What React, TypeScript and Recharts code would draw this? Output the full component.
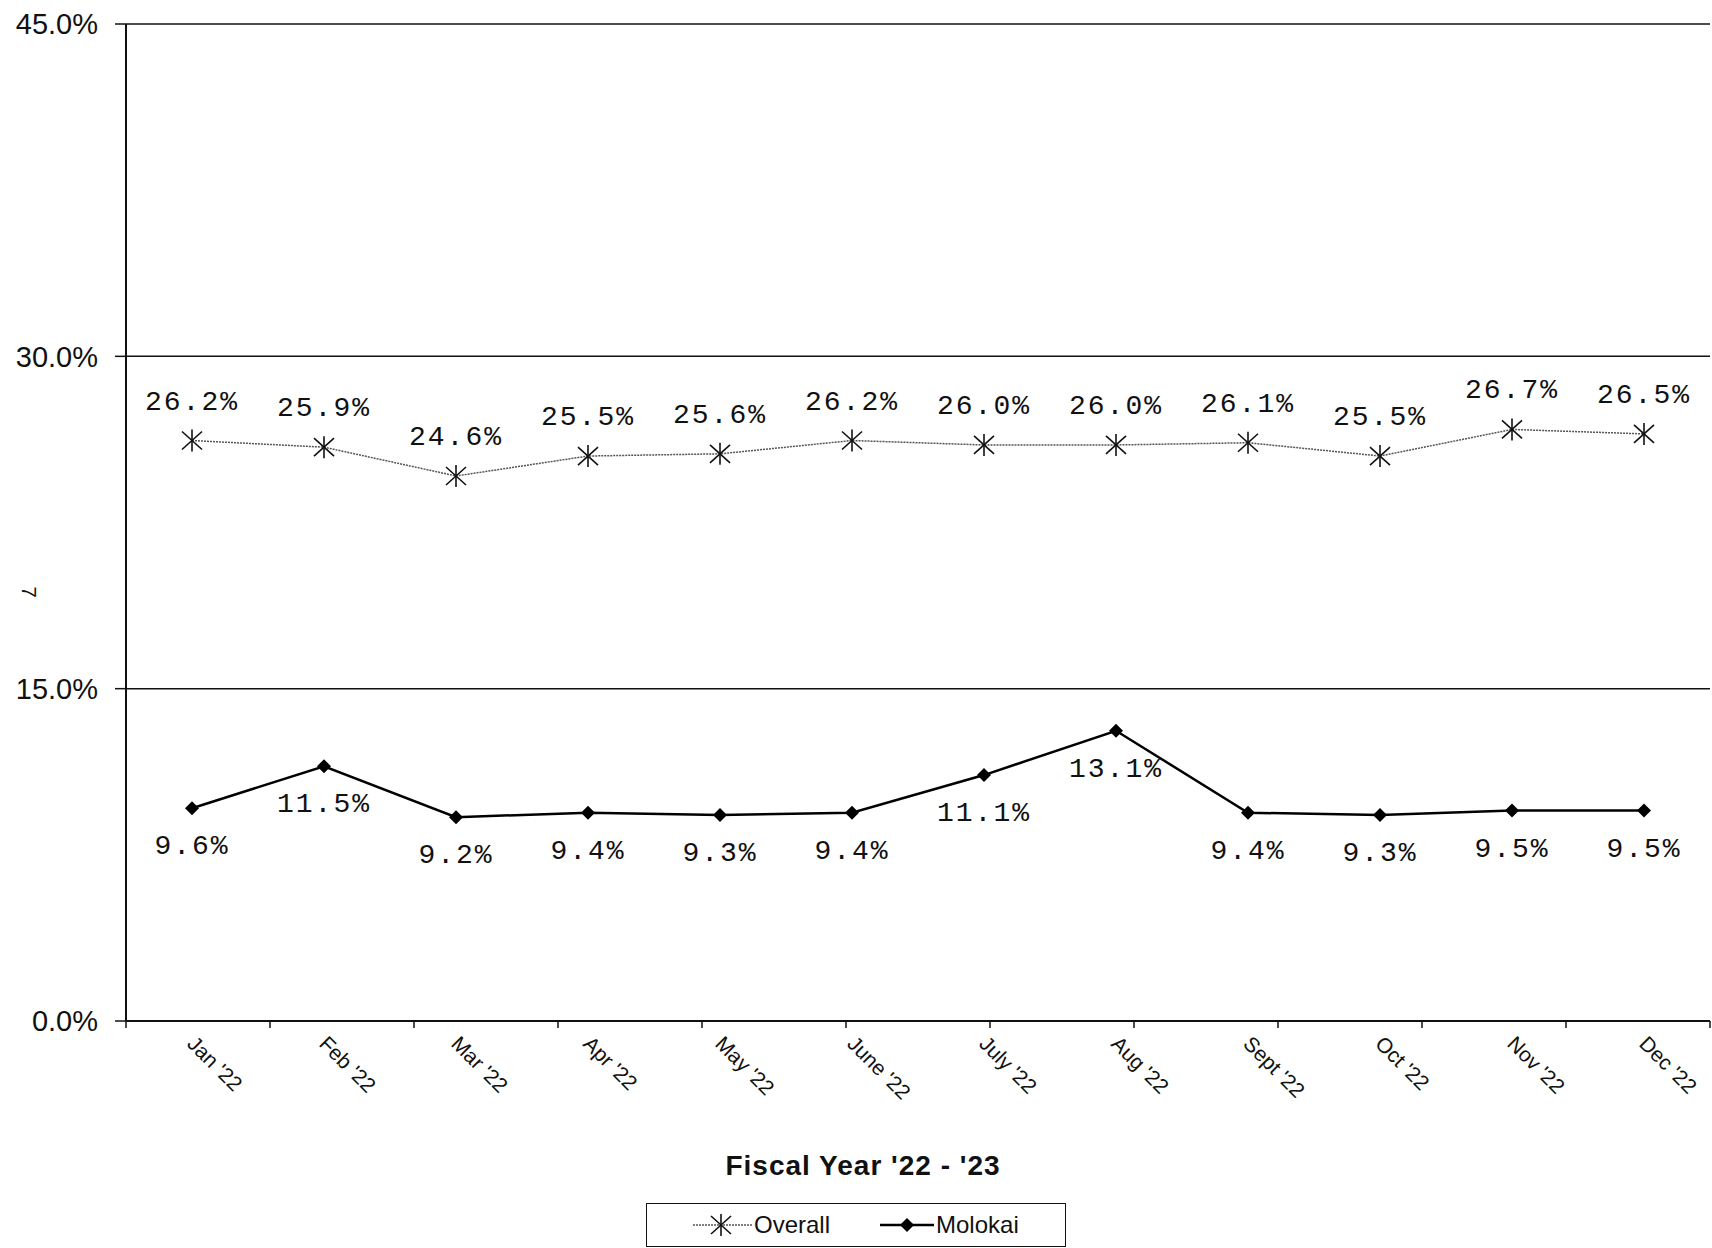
import React from 'react';
import { LineChart, Line, XAxis, YAxis, CartesianGrid, LabelList, Legend } from 'recharts';

const months = ["Jan '22", "Feb '22", "Mar '22", "Apr '22", "May '22", "June '22", "July '22", "Aug '22", "Sept '22", "Oct '22", "Nov '22", "Dec '22"];
const overall = [26.2, 25.9, 24.6, 25.5, 25.6, 26.2, 26.0, 26.0, 26.1, 25.5, 26.7, 26.5];
const molokai = [9.6, 11.5, 9.2, 9.4, 9.3, 9.4, 11.1, 13.1, 9.4, 9.3, 9.5, 9.5];
const yTicks = [0, 15, 30, 45];
const boundaryTicks = [0, 1, 2, 3, 4, 5, 6, 7, 8, 9, 10, 11, 12];
const xTitle = "Fiscal Year '22 - '23";
const seriesNames = { overall: 'Overall', molokai: 'Molokai' };

const data = months.map((m, i) => ({ month: m, overall: overall[i], molokai: molokai[i] }));

const SANS = '"Liberation Sans", Arial, sans-serif';
const MONO = '"Liberation Mono", "Courier New", monospace';

const Asterisk = (props: any) => {
  const { cx, cy } = props;
  if (cx == null || cy == null) return null;
  return (
    <g stroke="#111" strokeWidth={1.6} fill="none">
      <line x1={cx - 10} y1={cy - 9} x2={cx + 10} y2={cy + 9} />
      <line x1={cx - 10} y1={cy + 9} x2={cx + 10} y2={cy - 9} />
      <line x1={cx} y1={cy - 11} x2={cx} y2={cy + 11} />
    </g>
  );
};

const Diamond = (props: any) => {
  const { cx, cy } = props;
  if (cx == null || cy == null) return null;
  return <path d={`M${cx},${cy - 7} L${cx + 7},${cy} L${cx},${cy + 7} L${cx - 7},${cy} Z`} fill="#000" />;
};

const OverallLabel = (props: any) => {
  const { x, y, value } = props;
  return (
    <text x={x} y={y - 31} textAnchor="middle" fontFamily={MONO} fontSize={28} letterSpacing={2} fill="#111">
      {Number(value).toFixed(1) + '%'}
    </text>
  );
};

const MolokaiLabel = (props: any) => {
  const { x, y, value } = props;
  return (
    <text x={x} y={y + 46} textAnchor="middle" fontFamily={MONO} fontSize={28} letterSpacing={2} fill="#111">
      {Number(value).toFixed(1) + '%'}
    </text>
  );
};

const MonthTick = (props: any) => {
  const { x, y, payload } = props;
  const ax = x - 6;
  const ay = y + 16;
  return (
    <text x={ax} y={ay} transform={`rotate(45, ${ax}, ${ay})`} textAnchor="start" fontFamily={SANS} fontSize={21} fill="#111">
      {payload.value}
    </text>
  );
};

const BoundaryTick = (props: any) => {
  const { x, y } = props;
  return <line x1={x} x2={x} y1={y - 1} y2={y + 6} stroke="#111" strokeWidth={1.5} />;
};

const XTitle = (props: any) => {
  const vb = props.viewBox || {};
  return (
    <text x={vb.x + vb.width / 2 - 55} y={vb.y + 154} textAnchor="middle" fontFamily={SANS} fontWeight="bold" fontSize={28} letterSpacing={1} fill="#111">
      {xTitle}
    </text>
  );
};

const YStray = () => (
  <text x={29} y={592} transform="rotate(90, 29, 592)" textAnchor="middle" dominantBaseline="central" fontFamily={SANS} fontSize={20} fill="#111">
    7
  </text>
);

const LegendBox = () => (
  <div
    style={{
      boxSizing: 'border-box',
      width: 420,
      height: 44,
      border: '1.5px solid #111',
      display: 'flex',
      alignItems: 'center',
      fontFamily: SANS,
      fontSize: 24,
      color: '#111',
    }}
  >
    <svg width={60} height={30} style={{ marginLeft: 46 }}>
      <line x1={0} y1={15} x2={60} y2={15} stroke="#555" strokeWidth={1.5} strokeDasharray="2 1" />
      <Asterisk cx={28} cy={15} />
    </svg>
    <span style={{ marginLeft: 1 }}>{seriesNames.overall}</span>
    <svg width={54} height={30} style={{ marginLeft: 50 }}>
      <line x1={0} y1={15} x2={54} y2={15} stroke="#000" strokeWidth={2.5} />
      <Diamond cx={27} cy={15} />
    </svg>
    <span style={{ marginLeft: 2 }}>{seriesNames.molokai}</span>
  </div>
);

export default function App() {
  return (
    <div style={{ position: 'absolute', left: 0, top: 0, width: 1712, height: 1248, background: '#fff' }}>
      <LineChart width={1712} height={1248} data={data} margin={{ top: 24, right: 2, left: 0, bottom: 127 }}>
        <CartesianGrid vertical={false} stroke="#111" strokeWidth={1.5} />
        <XAxis
          xAxisId="bounds"
          type="number"
          domain={[0, 12]}
          ticks={boundaryTicks}
          allowDataOverflow
          height={99}
          axisLine={false}
          tickLine={false}
          tickSize={0}
          tickMargin={0}
          tick={<BoundaryTick />}
          interval={0}
        />
        <XAxis
          dataKey="month"
          scale="band"
          height={1}
          interval={0}
          tickLine={false}
          axisLine={{ stroke: '#111', strokeWidth: 2 }}
          tick={<MonthTick />}
          label={<XTitle />}
        />
        <YAxis
          width={126}
          domain={[0, 45]}
          ticks={yTicks}
          interval={0}
          tickFormatter={(v: number) => v.toFixed(1) + '%'}
          tick={{ fontFamily: SANS, fontSize: 29, fill: '#111' }}
          tickSize={11}
          tickMargin={17}
          tickLine={{ stroke: '#111', strokeWidth: 1.5 }}
          axisLine={{ stroke: '#111', strokeWidth: 2 }}
          label={<YStray />}
        />
        <YAxis
          yAxisId="right"
          orientation="right"
          width={0}
          domain={[0, 45]}
          ticks={yTicks}
          tick={false}
          tickLine={false}
          axisLine={{ stroke: '#111', strokeWidth: 1.5 }}
        />
        <Legend
          verticalAlign="middle"
          align="center"
          layout="horizontal"
          content={<LegendBox />}
          wrapperStyle={{ position: 'absolute', top: 1203, left: 646, width: 420, height: 44 }}
        />
        <Line
          type="linear"
          dataKey="overall"
          name={seriesNames.overall}
          stroke="#555"
          strokeWidth={1.5}
          strokeDasharray="2 1"
          dot={<Asterisk />}
          activeDot={false}
          isAnimationActive={false}
        >
          <LabelList dataKey="overall" content={<OverallLabel />} />
        </Line>
        <Line
          type="linear"
          dataKey="molokai"
          name={seriesNames.molokai}
          stroke="#000"
          strokeWidth={2.5}
          dot={<Diamond />}
          activeDot={false}
          isAnimationActive={false}
        >
          <LabelList dataKey="molokai" content={<MolokaiLabel />} />
        </Line>
      </LineChart>
    </div>
  );
}
